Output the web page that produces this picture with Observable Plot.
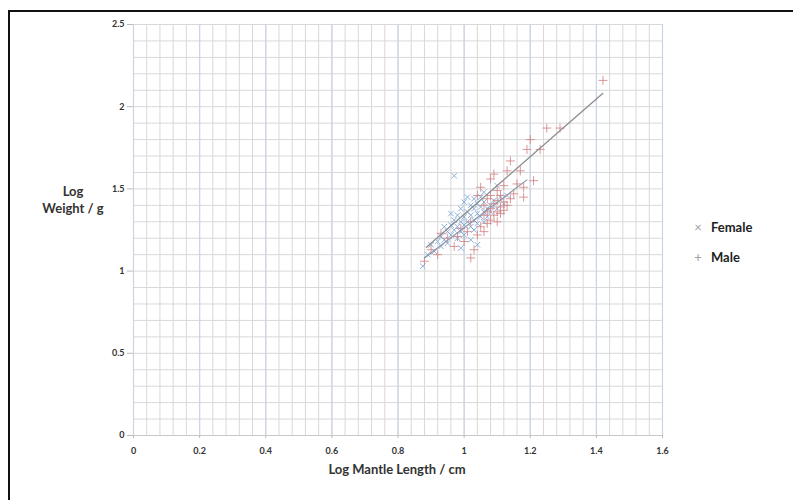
<!DOCTYPE html>
<html><head><meta charset="utf-8">
<script src="https://cdn.jsdelivr.net/npm/d3@7"></script>
<script src="https://cdn.jsdelivr.net/npm/@observablehq/plot@0.6"></script>
<style>
body{margin:0;background:#fff;width:793px;height:500px;overflow:hidden;position:relative;font-family:Lato,"Open Sans",sans-serif;}
#frame{position:absolute;left:8px;top:10px;right:-5px;bottom:-5px;border-top:2px solid #111;border-left:2px solid #111;}
#chart{position:absolute;left:0;top:0;}
.ttl{position:absolute;font-weight:700;color:#333;font-size:13px;line-height:17px;text-align:center;}
.leg{position:absolute;font-size:13px;font-weight:700;color:#222;}
.leg span.m{display:inline-block;width:14px;color:#a0a0a0;font-weight:400;margin-right:6px;text-align:center;}
</style></head><body>
<div id="chart"></div>
<div id="frame"></div>
<div class="ttl" style="left:36px;top:183px;width:74px;">Log<br>Weight / g</div>
<div class="ttl" style="left:297px;top:461px;width:200px;">Log Mantle Length / cm</div>
<div class="leg" style="left:691px;top:219px;"><span class="m">×</span>Female</div>
<div class="leg" style="left:691px;top:249px;"><span class="m">+</span>Male</div>
<script>
const xTicks = [0, 0.2, 0.4, 0.6, 0.8, 1, 1.2, 1.4, 1.6];
const xTickLabels = ["0", "0.2", "0.4", "0.6", "0.8", "1", "1.2", "1.4", "1.6"];
const yTicks = [0, 0.5, 1, 1.5, 2, 2.5];
const yTickLabels = ["0", "0.5", "1", "1.5", "2", "2.5"];

const femaleX = [0.875,0.89,0.90,0.91,0.92,0.93,0.93,0.94,0.95,0.95,0.96,0.96,0.97,0.97,0.97,0.98,0.98,0.98,0.99,0.99,0.99,1.00,1.00,1.00,1.00,1.01,1.01,1.01,1.02,1.02,1.02,1.03,1.03,1.03,1.03,1.04,1.04,1.04,1.05,1.05,1.05,1.06,1.06,1.06,1.07,1.07,1.08,1.08,1.09,1.10,1.11,1.12,0.96,0.94,1.02,1.04,0.99,1.06,1.10,1.13];
const femaleY = [1.03,1.10,1.16,1.12,1.18,1.15,1.21,1.19,1.24,1.17,1.22,1.28,1.25,1.31,1.58,1.20,1.27,1.34,1.30,1.24,1.38,1.28,1.33,1.42,1.22,1.36,1.30,1.45,1.27,1.34,1.40,1.31,1.38,1.44,1.25,1.35,1.29,1.41,1.33,1.39,1.45,1.36,1.30,1.42,1.38,1.33,1.40,1.36,1.43,1.38,1.45,1.41,1.35,1.27,1.19,1.16,1.14,1.48,1.52,1.46];

const maleX = [0.88,0.90,0.92,0.93,0.95,0.97,0.99,1.00,1.01,1.02,1.03,1.04,1.04,1.05,1.05,1.06,1.06,1.07,1.07,1.07,1.08,1.08,1.08,1.08,1.09,1.09,1.09,1.10,1.10,1.10,1.10,1.11,1.11,1.11,1.12,1.12,1.12,1.13,1.13,1.14,1.14,1.15,1.16,1.17,1.18,1.18,1.19,1.20,1.21,1.23,1.25,1.29,1.42,1.06,1.02,0.98];
const maleY = [1.06,1.13,1.10,1.23,1.20,1.15,1.26,1.18,1.24,1.08,1.13,1.22,1.46,1.27,1.51,1.34,1.40,1.29,1.36,1.44,1.31,1.38,1.46,1.56,1.34,1.41,1.59,1.36,1.43,1.30,1.49,1.39,1.35,1.46,1.42,1.37,1.52,1.40,1.61,1.44,1.67,1.47,1.53,1.61,1.45,1.51,1.74,1.80,1.55,1.74,1.87,1.87,2.16,1.24,1.30,1.21];

// trend lines (start / end)
const maleFitX = [0.886, 1.419];
const maleFitY = [1.145, 2.08];
const femaleFitX = [0.88, 1.19];
const femaleFitY = [1.08, 1.555];

const female = femaleX.map((x, i) => ({x, y: femaleY[i]}));
const male = maleX.map((x, i) => ({x, y: maleY[i]}));
const maleFit = maleFitX.map((x, i) => ({x, y: maleFitY[i]}));
const femaleFit = femaleFitX.map((x, i) => ({x, y: femaleFitY[i]}));

const minorX = d3.range(0, 1.6001, 0.04);
const minorY = d3.range(0, 2.5001, 0.1);

const chart = Plot.plot({
  width: 793, height: 500,
  marginLeft: 133, marginRight: 131, marginTop: 24, marginBottom: 65,
  style: {fontFamily: "Lato, 'Open Sans', sans-serif", fontSize: "9px", fontWeight: 700, color: "#333", background: "transparent"},
  x: {domain: [0, 1.6], label: null},
  y: {domain: [0, 2.5], label: null},
  marks: [
    Plot.gridX(minorX, {stroke: "#d8d8d8", strokeOpacity: 1, strokeWidth: 1}),
    Plot.gridY(minorY, {stroke: "#d8d8d8", strokeOpacity: 1, strokeWidth: 1}),
    Plot.gridX(xTicks, {stroke: "#cad5e6", strokeOpacity: 1, strokeWidth: 1.2}),
    Plot.ruleY([0], {stroke: "#c8c8c8"}),
    Plot.axisX({ticks: xTicks, tickFormat: (d, i) => xTickLabels[i], tickSize: 3, tickPadding: 9, stroke: "#bbb", fill: "#333"}),
    Plot.axisY({ticks: yTicks, tickFormat: (d, i) => yTickLabels[i], tickSize: 6, tickPadding: 3, stroke: "#bbb", fill: "#333"}),
    Plot.dot(female, {x: "x", y: "y", symbol: "times", r: 2.6, stroke: "#6f9fd4", strokeWidth: 1, strokeOpacity: 0.8}),
    Plot.dot(male, {x: "x", y: "y", symbol: "plus", r: 3, stroke: "#cf7f82", strokeWidth: 1, strokeOpacity: 0.8}),
    Plot.line(femaleFit, {x: "x", y: "y", stroke: "#8a96a6", strokeWidth: 1.2}),
    Plot.line(maleFit, {x: "x", y: "y", stroke: "#8f8f8f", strokeWidth: 1.4})
  ]
});
document.getElementById("chart").appendChild(chart);
</script>
</body></html>
